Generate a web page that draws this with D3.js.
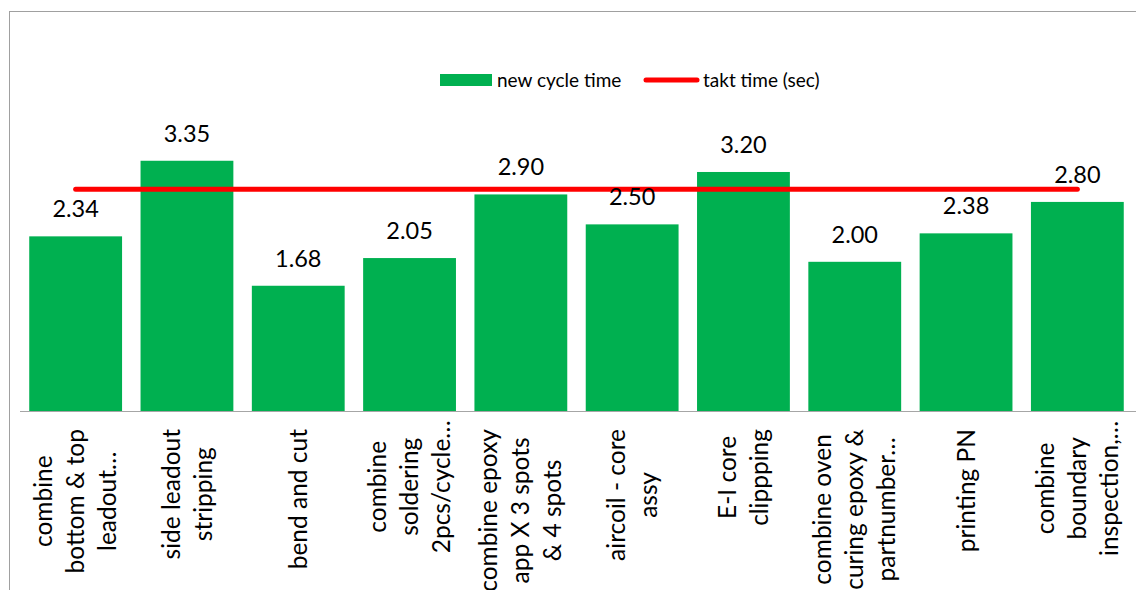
<!DOCTYPE html>
<html>
<head>
<meta charset="utf-8">
<script src="https://cdn.jsdelivr.net/npm/d3@7"></script>
<style>
  html, body { margin: 0; padding: 0; background: #fff; }
  svg { display: block; font-family: Lato, "Open Sans", sans-serif; }
</style>
</head>
<body>
<svg id="chart" width="1136" height="590"></svg>
<script>
// ---- data ----
const categories = [
  "combine\nbottom & top\nleadout…",
  "side leadout\nstripping",
  "bend and cut",
  "combine\nsoldering\n2pcs/cycle…",
  "combine epoxy\napp X 3 spots\n& 4 spots",
  "aircoil - core\nassy",
  "E-I core\nclippping",
  "combine oven\ncuring epoxy &\npartnumber…",
  "printing PN",
  "combine\nboundary\ninspection,…"
];
const cycleTime = [2.34, 3.35, 1.68, 2.05, 2.90, 2.50, 3.20, 2.00, 2.38, 2.80];
const taktTime = [2.97, 2.97, 2.97, 2.97, 2.97, 2.97, 2.97, 2.97, 2.97, 2.97];
const seriesNames = ["new cycle time", "takt time (sec)"];

// ---- layout ----
const W = 1136, H = 590;
const baseY = 411.5;
const unit = 74.85;
const GREEN = "#00B050", RED = "#FF0000";

const svg = d3.select("#chart");

// chart area border
svg.append("rect")
  .attr("x", 9.5).attr("y", 11.5)
  .attr("width", 1200).attr("height", 700)
  .attr("fill", "#fff").attr("stroke", "#a0a0a0").attr("stroke-width", 1);

const x = d3.scaleBand()
  .domain(d3.range(categories.length))
  .range([20, 1133])
  .paddingInner(0.166)
  .paddingOuter(0.083);

const y = d3.scaleLinear()
  .domain([0, 4])
  .range([baseY, baseY - 4 * unit]);

// bars
svg.append("g").selectAll("rect")
  .data(cycleTime)
  .join("rect")
  .attr("x", (d, i) => x(i))
  .attr("y", d => y(d))
  .attr("width", x.bandwidth())
  .attr("height", d => y(0) - y(d))
  .attr("fill", GREEN);

// x axis line
svg.append("line")
  .attr("x1", 20).attr("x2", W)
  .attr("y1", baseY).attr("y2", baseY)
  .attr("stroke", "#a6a6a6").attr("stroke-width", 1.2);

// takt line
const line = d3.line()
  .x((d, i) => x(i) + x.bandwidth() / 2)
  .y(d => y(d));
svg.append("path")
  .datum(taktTime)
  .attr("d", line)
  .attr("fill", "none")
  .attr("stroke", RED)
  .attr("stroke-width", 5)
  .attr("stroke-linecap", "round");

// value labels
svg.append("g").selectAll("text")
  .data(cycleTime)
  .join("text")
  .attr("x", (d, i) => x(i) + x.bandwidth() / 2)
  .attr("y", d => y(d) - 19)
  .attr("text-anchor", "middle")
  .attr("font-size", 23.5)
  .attr("fill", "#000")
  .text(d => d.toFixed(2));

// category labels (rotated)
const labelTop = 429;
const lineGap = 32;
const lg = svg.append("g");
categories.forEach((c, i) => {
  const lines = c.split("\n");
  const cx = x(i) + x.bandwidth() / 2;
  const g = lg.append("g")
    .attr("transform", `translate(${cx},${labelTop}) rotate(-90)`);
  const texts = lines.map((l, k) => g.append("text")
    .attr("text-anchor", "middle")
    .attr("dy", "0.35em")
    .attr("y", (k - (lines.length - 1) / 2) * lineGap)
    .attr("font-size", 24.5)
    .attr("fill", "#000")
    .text(l));
  let maxN = 0, maxT = 0;
  texts.forEach((t, k) => {
    const len = t.node().getComputedTextLength();
    if (lines[k].endsWith("…")) maxT = Math.max(maxT, len);
    else maxN = Math.max(maxN, len);
  });
  const span = maxT > maxN ? (maxN + maxT) / 2 : maxN;
  texts.forEach(t => t.attr("x", -span / 2));
});

// legend
const leg = svg.append("g");
leg.append("rect")
  .attr("x", 440).attr("y", 74).attr("width", 52).attr("height", 12)
  .attr("fill", GREEN);
leg.append("text")
  .attr("x", 497).attr("y", 80).attr("dy", "0.35em")
  .attr("font-size", 19).attr("fill", "#000")
  .text(seriesNames[0]);
leg.append("line")
  .attr("x1", 646).attr("x2", 697).attr("y1", 80).attr("y2", 80)
  .attr("stroke", RED).attr("stroke-width", 5).attr("stroke-linecap", "round");
leg.append("text")
  .attr("x", 703).attr("y", 80).attr("dy", "0.35em")
  .attr("font-size", 19).attr("fill", "#000")
  .text(seriesNames[1]);
</script>
</body>
</html>
